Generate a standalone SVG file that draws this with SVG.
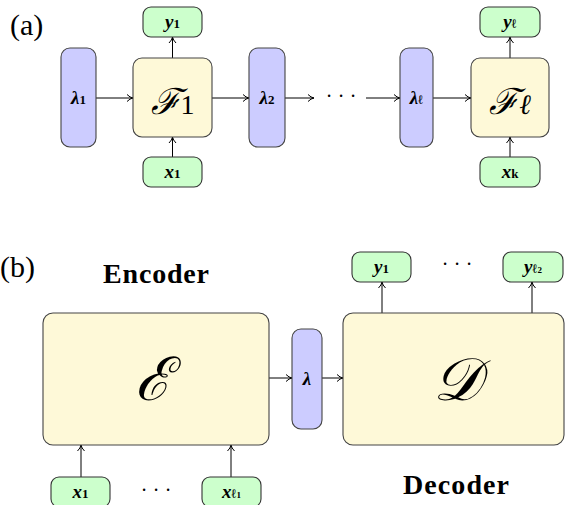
<svg xmlns="http://www.w3.org/2000/svg" width="565" height="505" viewBox="0 0 565 505">
<defs>
<marker id="arr" viewBox="0 0 10 10" refX="9" refY="5" markerWidth="10" markerHeight="10" markerUnits="userSpaceOnUse" orient="auto">
<path d="M3,1.5 Q6,4.5 9,5 Q6,5.5 3,8.5" fill="none" stroke="#000" stroke-width="1"/>
</marker>
<style>
.lam{fill:#ccccff;stroke:#444;stroke-width:1.1}
.fun{fill:#fef9d8;stroke:#444;stroke-width:1.1}
.io{fill:#ccffcc;stroke:#333;stroke-width:1.1}
.c{stroke:#000;stroke-width:1;fill:none;marker-end:url(#arr)}
.m{font-family:"Liberation Serif","DejaVu Serif",serif;font-weight:bold;font-style:italic;font-size:19px;text-anchor:middle}
.sub{font-size:13px;font-style:normal}
.scr{font-family:"DejaVu Serif","Liberation Serif",serif;font-style:italic;text-anchor:middle}
.lbl{font-family:"Liberation Serif",serif;font-size:30px}
.hd{font-family:"Liberation Serif",serif;font-weight:bold;font-size:28px;text-anchor:middle}
.dots{font-family:"Liberation Serif",serif;font-size:20px;text-anchor:middle}
</style>
</defs>
<text class="lbl" x="10" y="35">(a)</text>
<text class="lbl" x="0" y="277">(b)</text>

<g id="connectors">
<line class="c" x1="96" y1="98" x2="133" y2="98"/>
<line class="c" x1="212" y1="98" x2="249" y2="98"/>
<line class="c" x1="285" y1="98" x2="314" y2="98"/>
<line class="c" x1="366" y1="98" x2="400" y2="98"/>
<line class="c" x1="433" y1="98" x2="471" y2="98"/>
<line class="c" x1="172.5" y1="58" x2="172.5" y2="37"/>
<line class="c" x1="172.5" y1="157" x2="172.5" y2="137"/>
<line class="c" x1="510" y1="58" x2="510" y2="37"/>
<line class="c" x1="510" y1="157" x2="510" y2="137"/>
<line class="c" x1="269" y1="378" x2="292" y2="378"/>
<line class="c" x1="322" y1="378" x2="343" y2="378"/>
<line class="c" x1="382" y1="313" x2="382" y2="282"/>
<line class="c" x1="532" y1="313" x2="532" y2="282"/>
<line class="c" x1="81" y1="477" x2="81" y2="445"/>
<line class="c" x1="231" y1="477" x2="231" y2="445"/>
</g>

<text class="dots" x="329 341 353" y="103">···</text>

<g id="lambda1"><rect class="lam" x="61" y="48" width="35" height="99" rx="9"/><text class="m" x="78.5" y="104">λ<tspan class="sub">1</tspan></text></g>
<g id="F1"><rect class="fun" x="133" y="58" width="79" height="79" rx="9"/><text class="scr" x="172.5" y="114" font-size="36">ℱ<tspan font-style="normal" font-size="28" font-family="Liberation Serif">1</tspan></text></g>
<g id="y1a"><rect class="io" x="143" y="7" width="59" height="30" rx="8"/><text class="m" x="172.5" y="28">y<tspan class="sub">1</tspan></text></g>
<g id="x1a"><rect class="io" x="143" y="157" width="59" height="30" rx="8"/><text class="m" x="172.5" y="178">x<tspan class="sub">1</tspan></text></g>
<g id="lambda2"><rect class="lam" x="249" y="48" width="36" height="99" rx="9"/><text class="m" x="267" y="104">λ<tspan class="sub">2</tspan></text></g>
<g id="lambdal"><rect class="lam" x="400" y="48" width="33" height="99" rx="9"/><text class="m" x="416.5" y="104">λ<tspan class="sub" font-style="italic">ℓ</tspan></text></g>
<g id="Fl"><rect class="fun" x="471" y="58" width="78" height="79" rx="9"/><text class="scr" x="510" y="114" font-size="36">ℱ<tspan font-size="28" font-family="Liberation Serif">ℓ</tspan></text></g>
<g id="yl"><rect class="io" x="480" y="7" width="60" height="30" rx="8"/><text class="m" x="510" y="28">y<tspan class="sub" font-style="italic">ℓ</tspan></text></g>
<g id="xk"><rect class="io" x="480" y="157" width="60" height="30" rx="8"/><text class="m" x="510" y="178">x<tspan class="sub" font-style="italic">k</tspan></text></g>

<text class="hd" x="156" y="283" textLength="106" lengthAdjust="spacing">Encoder</text>
<text class="hd" x="456" y="494" textLength="106" lengthAdjust="spacing">Decoder</text>

<g id="encoder"><rect class="fun" x="43" y="313" width="226" height="132" rx="10"/><text class="scr" x="153" y="400" font-size="60">ℰ</text></g>
<g id="lambda"><rect class="lam" x="292" y="329" width="30" height="100" rx="9"/><text class="m" x="307" y="385">λ</text></g>
<g id="decoder"><rect class="fun" x="343" y="313" width="221" height="132" rx="10"/><text class="scr" x="457" y="400" font-size="60">𝒟</text></g>
<g id="y1b"><rect class="io" x="352" y="252" width="59" height="30" rx="8"/><text class="m" x="381.5" y="273">y<tspan class="sub">1</tspan></text></g>
<g id="yl2"><rect class="io" x="503" y="252" width="60" height="30" rx="8"/><text class="m" x="533" y="273">y<tspan class="sub" font-style="italic">ℓ<tspan font-size="9" font-style="normal">2</tspan></tspan></text></g>
<text class="dots" x="445 457 469" y="271">···</text>
<g id="x1b"><rect class="io" x="51" y="477" width="59" height="30" rx="8"/><text class="m" x="80.5" y="498">x<tspan class="sub">1</tspan></text></g>
<g id="xl1"><rect class="io" x="202" y="477" width="59" height="30" rx="8"/><text class="m" x="231.5" y="498">x<tspan class="sub" font-style="italic">ℓ<tspan font-size="9" font-style="normal">1</tspan></tspan></text></g>
<text class="dots" x="144 156 168" y="497">···</text>
</svg>
